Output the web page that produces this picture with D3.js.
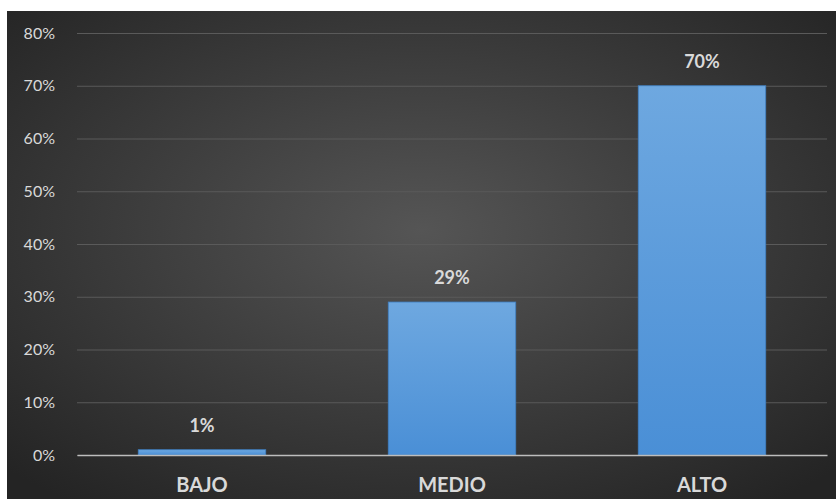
<!DOCTYPE html>
<html><head><meta charset="utf-8">
<script src="https://cdn.jsdelivr.net/npm/d3@7"></script>
<style>body{margin:0;background:#fff}svg{display:block}</style>
</head><body><svg id="c" width="836" height="499"></svg>
<script>
const categories = ["BAJO", "MEDIO", "ALTO"];
const values = [0.01, 0.29, 0.70];
const valueLabels = ["1%", "29%", "70%"];
const yTicks = [0, 0.1, 0.2, 0.3, 0.4, 0.5, 0.6, 0.7, 0.8];

const svg = d3.select("#c");
const W = 836, H = 499;
const defs = svg.append("defs");
const bg = defs.append("radialGradient").attr("id","bg").attr("cx","50%").attr("cy","45%").attr("r","70%");
bg.append("stop").attr("offset","0%").attr("stop-color","#555555");
bg.append("stop").attr("offset","100%").attr("stop-color","#242424");
const bar = defs.append("linearGradient").attr("id","bar").attr("x1",0).attr("y1",0).attr("x2",0).attr("y2",1);
bar.append("stop").attr("offset","0%").attr("stop-color","#6ea8e0");
bar.append("stop").attr("offset","100%").attr("stop-color","#4a8fd6");

svg.append("rect").attr("x",7).attr("y",11).attr("width",W-7).attr("height",H-11).attr("fill","url(#bg)");

const x = d3.scaleBand().domain(categories).range([77, 827]).paddingInner(0.49).paddingOuter(0.245);
const y = d3.scaleLinear().domain([0, 0.8]).range([455, 33]);
const font = "Lato, 'Open Sans', sans-serif";

const yAxis = svg.append("g").attr("transform","translate(77,0)")
  .call(d3.axisLeft(y).tickValues(yTicks).tickFormat(d3.format(".0%")).tickSize(-750).tickPadding(22));
yAxis.select(".domain").remove();
yAxis.selectAll(".tick line").attr("stroke","#5a5a5a").attr("stroke-width",1.2);
yAxis.selectAll(".tick text").attr("fill","#d9d9d9").style("font-family",font).style("font-size","16px");

svg.append("g").selectAll("rect").data(values).join("rect")
  .attr("x",(d,i)=>x(categories[i])).attr("width",x.bandwidth())
  .attr("y",d=>y(d)).attr("height",d=>y(0)-y(d))
  .attr("fill","url(#bar)").attr("stroke","#3e7fc2").attr("stroke-width",0.8);

const xAxis = svg.append("g").attr("transform","translate(0,455)")
  .call(d3.axisBottom(x).tickSize(0).tickPadding(23));
xAxis.select(".domain").attr("stroke","#bdbdbd").attr("stroke-width",1.5);
xAxis.selectAll(".tick text").attr("fill","#d9d9d9").style("font-family",font)
  .style("font-size","20px").style("font-weight","bold");

svg.append("g").selectAll("text").data(values).join("text")
  .attr("x",(d,i)=>x(categories[i])+x.bandwidth()/2).attr("y",d=>y(d)-18)
  .attr("text-anchor","middle").attr("fill","#d9d9d9")
  .style("font-family",font).style("font-size","18px").style("font-weight","bold")
  .text((d,i)=>valueLabels[i]);
</script></body></html>
